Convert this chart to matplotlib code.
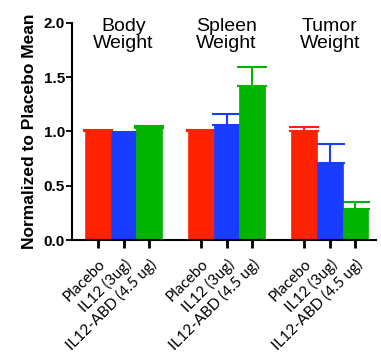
import matplotlib
matplotlib.use("Agg")
import matplotlib.pyplot as plt
import numpy as np

groups = ["Body\nWeight", "Spleen\nWeight", "Tumor\nWeight"]
treatments = ["Placebo", "IL12 (3ug)", "IL12-ABD (4.5 ug)"]
means = {
    "Placebo": [1.00, 1.00, 1.00],
    "IL12 (3ug)": [0.98, 1.06, 0.71],
    "IL12-ABD (4.5 ug)": [1.03, 1.42, 0.29],
}
errs = {
    "Placebo": [0.01, 0.01, 0.04],
    "IL12 (3ug)": [0.015, 0.10, 0.175],
    "IL12-ABD (4.5 ug)": [0.02, 0.175, 0.06],
}
colors = {"Placebo": "#FF2200", "IL12 (3ug)": "#1A3CFF", "IL12-ABD (4.5 ug)": "#00B400"}

fig = plt.figure(figsize=(3.81, 3.52), dpi=100)
ax = fig.add_axes([0.189, 0.318, 0.798, 0.617])

xs_all, labels_all = [], []
for gi, g in enumerate(groups):
    for ti, t in enumerate(treatments):
        x = gi * 4 + ti
        m = means[t][gi]
        e = errs[t][gi]
        ax.errorbar(x, m, yerr=[[0], [e]], color=colors[t], capsize=11, elinewidth=1.5,
                    capthick=1.5, fmt="none", zorder=1)
        ax.bar(x, m, width=1.0, color=colors[t], edgecolor=colors[t], linewidth=0.5, zorder=2)
        xs_all.append(x)
        labels_all.append(t)
    ax.text(gi * 4 + 1, 1.89, g, ha="center", va="center", fontsize=14,
            family="Liberation Sans", linespacing=1.0)

ax.set_xlim(-1, 10.8)
ax.set_ylim(0, 2.0)
ax.set_yticks([0, 0.5, 1.0, 1.5, 2.0])
ax.set_yticklabels(["0.0", "0.5", "1.0", "1.5", "2.0"], fontsize=11, fontweight="bold",
                   family="Liberation Sans")
ax.set_xticks(xs_all)
ax.set_xticklabels(labels_all, rotation=45, ha="right", va="top", rotation_mode="anchor",
                   fontsize=11, family="Lato")
ax.tick_params(axis="y", length=4, width=1.3, pad=1)
ax.tick_params(axis="x", length=6, width=2, pad=6)
for s in ["top", "right"]:
    ax.spines[s].set_visible(False)
for s in ["left", "bottom"]:
    ax.spines[s].set_linewidth(1.5)
ax.set_ylabel("Normalized to Placebo Mean", fontsize=12.5, fontweight="bold",
              family="Liberation Sans", labelpad=4)
ax.yaxis.set_label_coords(-0.115, 0.5)

fig.savefig("out.png", dpi=100)
